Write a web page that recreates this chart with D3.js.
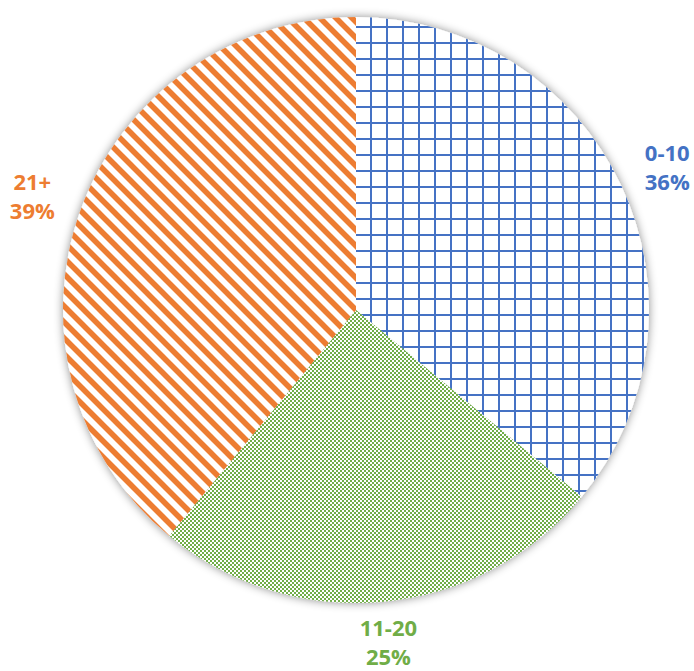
<!DOCTYPE html>
<html>
<head>
<meta charset="utf-8">
<script src="https://cdn.jsdelivr.net/npm/d3@7"></script>
<style>
  html, body { margin: 0; padding: 0; background: #fff; }
</style>
</head>
<body>
<svg id="chart" width="694" height="671"></svg>
<script>
// data
const categories = ['0-10', '11-20', '21+'];
const shares = [36, 25, 39];

const colors = ['#4472C4', '#70AD47', '#ED7D31'];
const patternIds = ['grid-blue', 'check-green', 'stripe-orange'];

const width = 694, height = 671;
const cx = 356, cy = 310, radius = 293;
// labels sit on a slightly flattened ring outside the pie
const labelRx = 344, labelRy = 334;

const svg = d3.select('#chart');
const defs = svg.append('defs');

// soft outer shadow around the pie
const shadow = defs.append('filter')
    .attr('id', 'glow')
    .attr('x', '-10%').attr('y', '-10%')
    .attr('width', '120%').attr('height', '120%');
shadow.append('feGaussianBlur')
    .attr('in', 'SourceAlpha')
    .attr('stdDeviation', 5)
    .attr('result', 'blur');
shadow.append('feFlood').attr('flood-color', '#000').attr('flood-opacity', 0.45);
shadow.append('feComposite').attr('in2', 'blur').attr('operator', 'in').attr('result', 'shade');
const merge = shadow.append('feMerge');
merge.append('feMergeNode').attr('in', 'shade');
merge.append('feMergeNode').attr('in', 'SourceGraphic');

// blue grid pattern
let p = defs.append('pattern')
    .attr('id', patternIds[0])
    .attr('patternUnits', 'userSpaceOnUse')
    .attr('x', 14).attr('y', 4)
    .attr('width', 16).attr('height', 16);
p.append('rect').attr('width', 16).attr('height', 16).attr('fill', '#fff');
p.append('rect').attr('width', 2).attr('height', 16).attr('fill', colors[0]);
p.append('rect').attr('width', 16).attr('height', 2).attr('fill', colors[0]);

// green checker pattern
p = defs.append('pattern')
    .attr('id', patternIds[1])
    .attr('patternUnits', 'userSpaceOnUse')
    .attr('width', 4).attr('height', 4);
p.append('rect').attr('width', 4).attr('height', 4).attr('fill', '#fff');
p.append('rect').attr('width', 2).attr('height', 2).attr('fill', colors[1]);
p.append('rect').attr('x', 2).attr('y', 2).attr('width', 2).attr('height', 2).attr('fill', colors[1]);

// orange downward diagonal stripes
p = defs.append('pattern')
    .attr('id', patternIds[2])
    .attr('patternUnits', 'userSpaceOnUse')
    .attr('width', 16).attr('height', 16);
p.append('rect').attr('width', 16).attr('height', 16).attr('fill', '#fff');
p.append('path')
    .attr('d', 'M-8,8 L8,24 M0,0 L16,16 M8,-8 L24,8')
    .attr('stroke', colors[2])
    .attr('stroke-width', 5.6);

const pie = d3.pie().sort(null).value(d => d.value);
const arcs = pie(categories.map((c, i) => ({ name: c, value: shares[i], idx: i })));

const arc = d3.arc().innerRadius(0).outerRadius(radius);

const g = svg.append('g').attr('transform', `translate(${cx},${cy})`);

g.append('g')
    .attr('filter', 'url(#glow)')
    .selectAll('path')
    .data(arcs)
    .enter()
    .append('path')
    .attr('d', arc)
    .attr('fill', d => `url(#${patternIds[d.data.idx]})`);

// labels
function labelPos(d) {
    const a = (d.startAngle + d.endAngle) / 2;
    return [labelRx * Math.sin(a), -labelRy * Math.cos(a)];
}

const labels = g.selectAll('.label')
    .data(arcs)
    .enter()
    .append('text')
    .attr('class', 'label')
    .attr('transform', d => `translate(${labelPos(d)})`)
    .attr('text-anchor', 'middle')
    .style('font-family', 'Open Sans')
    .style('font-size', '22px')
    .style('font-weight', 'bold')
    .attr('fill', d => colors[d.data.idx]);

labels.append('tspan')
    .attr('x', 0)
    .attr('dy', '-0.3em')
    .text(d => d.data.name);
labels.append('tspan')
    .attr('x', 0)
    .attr('dy', '1.32em')
    .text(d => `${d.data.value}%`);
</script>
</body>
</html>
